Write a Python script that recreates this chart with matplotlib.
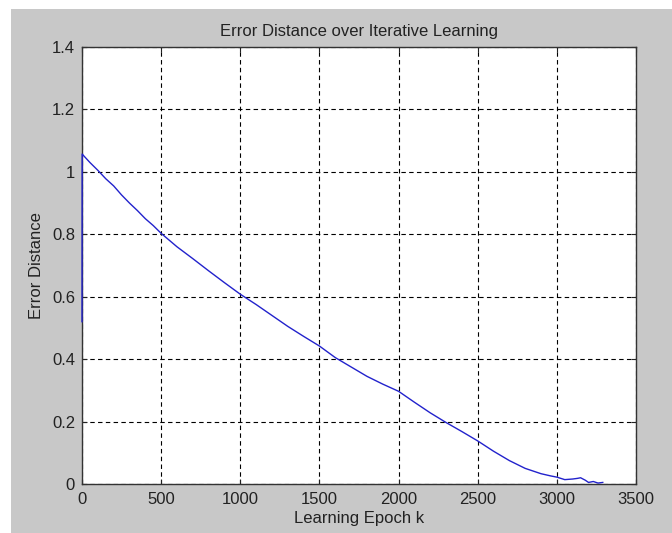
import numpy as np
import matplotlib
matplotlib.use('Agg')
import matplotlib.pyplot as plt
from matplotlib.patches import Rectangle

plt.rcParams['font.family'] = ['Liberation Sans', 'DejaVu Sans']

# error distance
epoch = [0, 1, 50, 100, 150, 200, 250, 300, 350, 400, 450, 500, 600, 700, 800, 900,
         1000, 1100, 1200, 1300, 1400, 1500, 1600, 1700, 1800, 1900, 2000, 2100,
         2200, 2300, 2400, 2500, 2600, 2700, 2800, 2900, 2960, 3000, 3050, 3100,
         3130, 3150, 3180, 3200, 3230, 3260, 3290]
err = [0.52, 1.057, 1.030, 1.005, 0.978, 0.955, 0.926, 0.900, 0.876, 0.850, 0.828,
       0.803, 0.760, 0.722, 0.683, 0.645, 0.608, 0.575, 0.540, 0.505, 0.473, 0.442,
       0.405, 0.375, 0.345, 0.320, 0.297, 0.262, 0.228, 0.197, 0.168, 0.138, 0.105,
       0.075, 0.050, 0.033, 0.026, 0.022, 0.014, 0.016, 0.018, 0.020, 0.012, 0.005,
       0.008, 0.003, 0.005]

xticks = [0, 500, 1000, 1500, 2000, 2500, 3000, 3500]
yticks = [0, 0.2, 0.4, 0.6, 0.8, 1, 1.2, 1.4]
ytick_labels = ['0', '0.2', '0.4', '0.6', '0.8', '1', '1.2', '1.4']

fig = plt.figure(figsize=(6.72, 5.33), dpi=100)
fig.patch.set_facecolor('white')
# grey matlab figure window, inset a little at top/left
bg = Rectangle((11 / 672, 0), 1, 1 - 9 / 533, transform=fig.transFigure,
               facecolor='#c8c8c8', edgecolor='none')
bg.set_zorder(-10)
fig.add_artist(bg)

ax = fig.add_axes([82 / 672, 1 - 484 / 533, 554 / 672, 437 / 533])
ax.set_zorder(1)
ax.set_facecolor('white')
ax.plot(epoch, err, color='#2222cc', lw=1.0, clip_on=False, zorder=3)

ax.set_xlim(0, 3500)
ax.set_ylim(0, 1.4)
ax.set_xticks(xticks)
ax.set_yticks(yticks)
ax.set_yticklabels(ytick_labels)
ax.tick_params(direction='in', length=3.6, width=0.8, top=True, right=True,
               labelsize=12, colors='#222222')
ax.tick_params(axis='x', pad=6)
ax.tick_params(axis='y', pad=5)
ax.grid(True, color='black', lw=0.8, linestyle=(0, (4, 3)))
for s in ax.spines.values():
    s.set_color('#333333')
    s.set_linewidth(1.0)

ax.set_title('Error Distance over Iterative Learning', fontsize=12, pad=8, color='#222222')
ax.set_xlabel('Learning Epoch k', fontsize=12, labelpad=3, color='#222222')
ax.set_ylabel('Error Distance', fontsize=12, labelpad=6, color='#222222')

fig.savefig('out.png', dpi=100)
